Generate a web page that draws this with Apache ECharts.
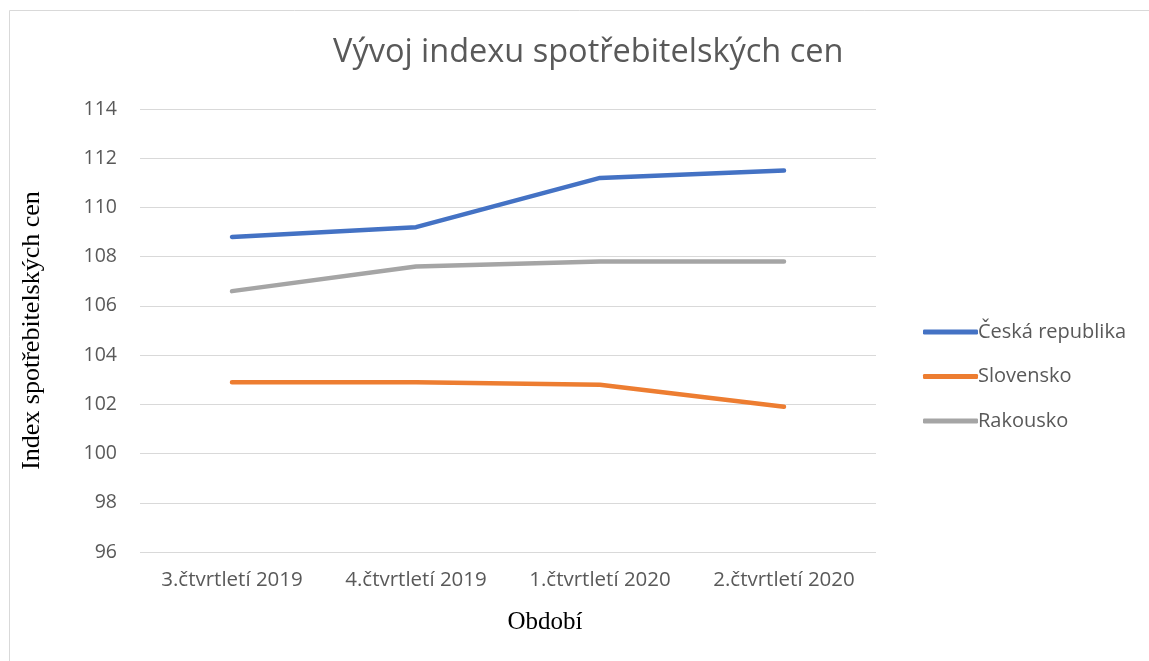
<!DOCTYPE html>
<html>
<head>
<meta charset="utf-8">
<script src="https://cdn.jsdelivr.net/npm/echarts@6/dist/echarts.min.js"></script>
<style>
  html, body { margin: 0; padding: 0; background: #fff; }
  #chart { width: 1149px; height: 661px; }
</style>
</head>
<body>
<div id="chart"></div>
<script>
// data
const obdobi = ['3.čtvrtletí 2019', '4.čtvrtletí 2019', '1.čtvrtletí 2020', '2.čtvrtletí 2020']
const ceskaRepublika = [108.8, 109.2, 111.2, 111.5]
const slovensko = [102.9, 102.9, 102.8, 101.9]
const rakousko = [106.6, 107.6, 107.8, 107.8]

const sans = '"Open Sans", "Noto Sans", sans-serif'
const serif = '"Liberation Serif", "DejaVu Serif", serif'

const chart = echarts.init(document.getElementById('chart'))

const line = (name, data, color) => ({
  name, type: 'line', data,
  symbol: 'none',
  lineStyle: { color, width: 4.5, cap: 'round' },
  itemStyle: { color }
})

chart.setOption({
  animation: false,
  graphic: [{
    type: 'rect',
    shape: { x: 9.5, y: 10.5, width: 1150, height: 660 },
    style: { fill: 'none', stroke: '#d9d9d9', lineWidth: 1 }
  }],
  title: {
    text: 'Vývoj indexu spotřebitelských cen',
    left: 328, top: 31,
    textStyle: { fontFamily: sans, fontSize: 32.5, fontWeight: 'normal', color: '#595959' }
  },
  legend: {
    orient: 'vertical', left: 918, top: 317,
    itemWidth: 55, itemHeight: 5, itemGap: 24.5,
    icon: 'roundRect',
    textStyle: { fontFamily: sans, fontSize: 20, color: '#595959', padding: [0, 0, 0, -5] },
    data: ['Česká republika', 'Slovensko', 'Rakousko']
  },
  grid: { left: 140, right: 273, top: 109, bottom: 109, containLabel: false },
  xAxis: {
    type: 'category', data: obdobi, boundaryGap: true,
    name: 'Období', nameLocation: 'middle', nameGap: 58,
    nameTextStyle: { fontFamily: serif, fontSize: 25, color: '#000', padding: [0, 0, 0, 74] },
    axisLine: { show: false }, axisTick: { show: false },
    axisLabel: { fontFamily: sans, fontSize: 20.5, color: '#595959', margin: 18 }
  },
  yAxis: {
    type: 'value', min: 96, max: 114, interval: 2,
    name: 'Index spotřebitelských cen', nameLocation: 'middle', nameGap: 95,
    nameTextStyle: { fontFamily: serif, fontSize: 26, color: '#000' },
    axisLine: { show: false }, axisTick: { show: false },
    axisLabel: { fontFamily: sans, fontSize: 19.5, color: '#595959', margin: 23 },
    splitLine: { lineStyle: { color: '#d9d9d9', width: 1 } }
  },
  series: [
    line('Česká republika', ceskaRepublika, '#4472c4'),
    line('Slovensko', slovensko, '#ed7d31'),
    line('Rakousko', rakousko, '#a5a5a5')
  ]
})
</script>
</body>
</html>
